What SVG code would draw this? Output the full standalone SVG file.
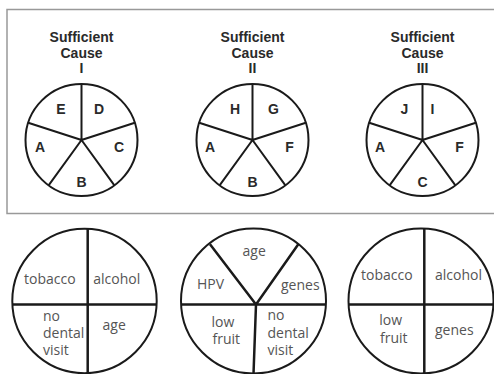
<svg xmlns="http://www.w3.org/2000/svg" width="494" height="374" viewBox="0 0 494 374">
<style>
.title{font-family:"Liberation Sans",Arial,sans-serif;font-weight:bold;font-size:14px;fill:#2a2a2a;text-anchor:middle}
.let{font-family:"Liberation Sans",Arial,sans-serif;font-weight:bold;font-size:14px;fill:#2a2a2a;text-anchor:middle}
.pie{fill:#fff;stroke:#1a1a1a;stroke-width:2}
.sp{stroke:#1a1a1a;stroke-width:2;fill:none}
.sp2{stroke:#1a1a1a;stroke-width:2.5;fill:none}
.lab{font-family:"Open Sans","Noto Sans",sans-serif;font-size:14px;fill:#555}
</style>
<rect width="494" height="374" fill="#fff"/>
<rect x="7" y="9.5" width="500" height="204" fill="none" stroke="#999" stroke-width="1.5"/>

<g id="cause1">
<text class="title" x="81.5" y="42">Sufficient</text>
<text class="title" x="81.5" y="57.5">Cause</text>
<text class="title" x="81.5" y="73">I</text>
<circle class="pie" cx="81.5" cy="140" r="56"/>
<path class="sp" d="M81.5 140V84M81.5 140L134.8 122.7M81.5 140L114.4 185.3M81.5 140L48.6 185.3M81.5 140L28.2 122.7"/>
<text class="let" x="61" y="114">E</text>
<text class="let" x="99" y="114">D</text>
<text class="let" x="40" y="152">A</text>
<text class="let" x="119" y="152">C</text>
<text class="let" x="81.5" y="187">B</text>
</g>

<g id="cause2">
<text class="title" x="252.5" y="42">Sufficient</text>
<text class="title" x="252.5" y="57.5">Cause</text>
<text class="title" x="252.5" y="73">II</text>
<circle class="pie" cx="252.5" cy="140" r="56"/>
<path class="sp" d="M252.5 140V84M252.5 140L305.8 122.7M252.5 140L285.4 185.3M252.5 140L219.6 185.3M252.5 140L199.2 122.7"/>
<text class="let" x="235" y="114">H</text>
<text class="let" x="273.5" y="114">G</text>
<text class="let" x="210" y="152">A</text>
<text class="let" x="289.5" y="152">F</text>
<text class="let" x="252.5" y="187">B</text>
</g>

<g id="cause3">
<text class="title" x="422.5" y="42">Sufficient</text>
<text class="title" x="422.5" y="57.5">Cause</text>
<text class="title" x="422.5" y="73">III</text>
<circle class="pie" cx="422.5" cy="140" r="56"/>
<path class="sp" d="M422.5 140V84M422.5 140L475.8 122.7M422.5 140L455.4 185.3M422.5 140L389.6 185.3M422.5 140L369.2 122.7"/>
<text class="let" x="404.5" y="114">J</text>
<text class="let" x="432.5" y="114">I</text>
<text class="let" x="380" y="152">A</text>
<text class="let" x="459.5" y="152">F</text>
<text class="let" x="422.5" y="187">C</text>
</g>

<g id="pie1">
<circle class="pie" cx="84.5" cy="301" r="72.2"/>
<path class="sp2" d="M87.7 229V373M12.5 304.5H156.5"/>
<text class="lab" x="24" y="283.5">tobacco</text>
<text class="lab" x="93.3" y="283.5">alcohol</text>
<text class="lab" x="43" y="321">no</text>
<text class="lab" x="43" y="338">dental</text>
<text class="lab" x="43" y="355">visit</text>
<text class="lab" x="102.5" y="330">age</text>
</g>

<g id="pie2">
<circle class="pie" cx="253.5" cy="301" r="72.5"/>
<path class="sp2" d="M181 304.5H326M256 304.5L210 244.3M256 304.5L298.3 244.3M256 304.5L253.5 374"/>
<text class="lab" x="242.5" y="255.5">age</text>
<text class="lab" x="197" y="289">HPV</text>
<text class="lab" x="281" y="290">genes</text>
<text class="lab" x="211.5" y="326.5">low</text>
<text class="lab" x="212.5" y="343.5">fruit</text>
<text class="lab" x="267.5" y="320">no</text>
<text class="lab" x="267.5" y="337.5">dental</text>
<text class="lab" x="267.5" y="355">visit</text>
</g>

<g id="pie3">
<circle class="pie" cx="421" cy="301" r="72.5"/>
<path class="sp2" d="M424.3 229V374M348.5 304.5H494"/>
<text class="lab" x="361" y="279.5">tobacco</text>
<text class="lab" x="435" y="279.5">alcohol</text>
<text class="lab" x="379.3" y="325">low</text>
<text class="lab" x="380" y="343.3">fruit</text>
<text class="lab" x="435" y="335">genes</text>
</g>
</svg>
